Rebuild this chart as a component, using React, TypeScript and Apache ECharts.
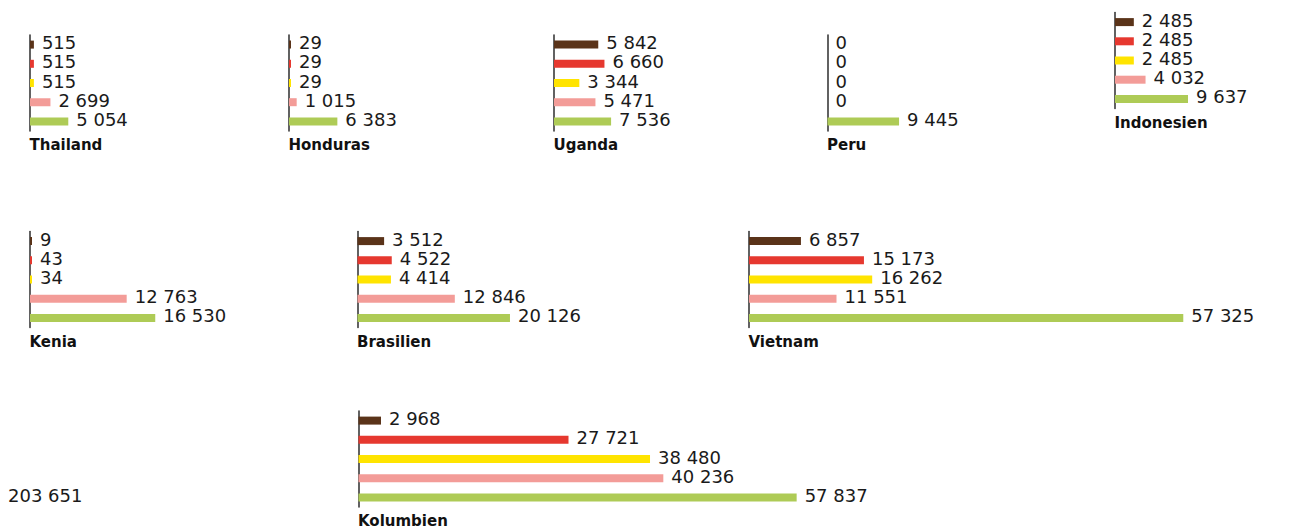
import React, { useEffect, useRef } from "react";
import * as echarts from "echarts";

const CATEGORIES = ["K1", "K2", "K3", "K4", "K5"];
const COLORS = ["#5a3319", "#e6382f", "#ffe400", "#f39c98", "#aecb56"];

const COUNTRIES = [
  "Thailand",
  "Honduras",
  "Uganda",
  "Peru",
  "Indonesien",
  "Kenia",
  "Brasilien",
  "Vietnam",
  "Kolumbien",
];

const THAILAND = [515, 515, 515, 2699, 5054];
const HONDURAS = [29, 29, 29, 1015, 6383];
const UGANDA = [5842, 6660, 3344, 5471, 7536];
const PERU = [0, 0, 0, 0, 9445];
const INDONESIEN = [2485, 2485, 2485, 4032, 9637];
const KENIA = [9, 43, 34, 12763, 16530];
const BRASILIEN = [3512, 4522, 4414, 12846, 20126];
const VIETNAM = [6857, 15173, 16262, 11551, 57325];
const KOLUMBIEN = [2968, 27721, 38480, 40236, 57837];
const VALUES = [THAILAND, HONDURAS, UGANDA, PERU, INDONESIEN, KENIA, BRASILIEN, VIETNAM, KOLUMBIEN];

const TOTAL_LABEL = 203651;

// panel layout: axis x position, grid top, grid width
const PANEL_X = [28.5, 287.5, 552.5, 826, 1113.5, 28.5, 356, 747.5, 357];
const PANEL_TOP = [35, 35, 35, 35, 12.5, 231.5, 231.5, 231.5, 411];
const PANEL_W = [240, 240, 240, 240, 180, 300, 360, 500, 500];
const UNITS_PER_PX = 132;

const fmt = (v: number) => String(v).replace(/\B(?=(\d{3})+(?!\d))/g, " ");

export default function App() {
  const ref = useRef<HTMLDivElement>(null);
  useEffect(() => {
    if (!ref.current) return;
    const chart = echarts.init(ref.current, null, { renderer: "svg" });
    const GAP = 1.5;
    const H = 96;
    const grids = COUNTRIES.map((_, i) => ({
      left: PANEL_X[i] + GAP,
      top: PANEL_TOP[i],
      width: PANEL_W[i],
      height: H,
    }));
    const xAxes = COUNTRIES.map((_, i) => ({
      type: "value",
      gridIndex: i,
      min: 0,
      max: PANEL_W[i] * UNITS_PER_PX,
      show: false,
    }));
    const yAxes = COUNTRIES.map((_, i) => ({
      type: "category",
      gridIndex: i,
      data: CATEGORIES,
      inverse: true,
      offset: GAP,
      axisLine: { show: true, lineStyle: { color: "#3a3a3a", width: 1.6 } },
      axisTick: { show: false },
      axisLabel: { show: false },
      splitLine: { show: false },
    }));
    const series = COUNTRIES.map((name, i) => ({
      type: "bar",
      name,
      xAxisIndex: i,
      yAxisIndex: i,
      barWidth: 8,
      barMinHeight: Math.min(...VALUES[i]) > 0 ? 2 : 0,
      data: VALUES[i].map((v, j) => ({ value: v, itemStyle: { color: COLORS[j] } })),
      label: {
        show: true,
        position: "right",
        distance: 8,
        offset: [0, -2],
        formatter: (p: any) => fmt(p.value),
        fontSize: 18,
        fontFamily: "DejaVu Sans",
        color: "#1a1a1a",
      },
    }));
    const graphic: any[] = COUNTRIES.map((name, i) => ({
      type: "text",
      x: PANEL_X[i] + 1,
      y: PANEL_TOP[i] + H + 14,
      style: {
        text: name,
        font: "bold 15px 'DejaVu Sans'",
        fill: "#111",
        textVerticalAlign: "middle",
      },
    }));
    graphic.push({
      type: "text",
      x: 8,
      y: 495,
      style: {
        text: fmt(TOTAL_LABEL),
        font: "18px 'DejaVu Sans'",
        fill: "#1a1a1a",
        textVerticalAlign: "middle",
      },
    });
    chart.setOption({
      animation: false,
      backgroundColor: "#ffffff",
      grid: grids,
      xAxis: xAxes,
      yAxis: yAxes,
      series,
      graphic,
    });
    return () => chart.dispose();
  }, []);
  return (
    <div
      ref={ref}
      style={{ position: "fixed", left: 0, top: 0, width: 1304, height: 530 }}
    />
  );
}
